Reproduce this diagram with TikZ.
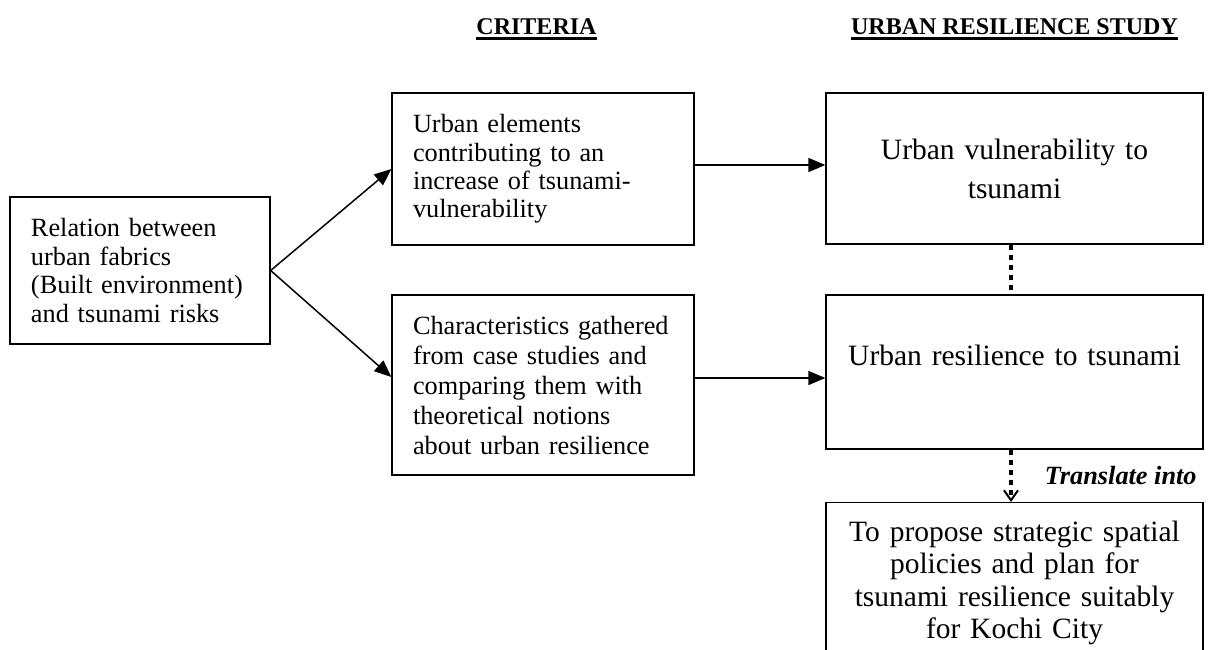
\documentclass[tikz,border=0pt]{standalone}
\usepackage{fontspec}
\setmainfont{Liberation Serif}
\usetikzlibrary{arrows.meta}
\begin{document}
\begin{tikzpicture}[x=0.5pt, y=-0.5pt,
  box/.style={draw, line width=0.65pt, rectangle, inner ysep=0pt},
  crit/.style={font=\fontsize{13.15pt}{14.2pt}\selectfont, align=left, inner xsep=10.5pt},
  outcome/.style={font=\fontsize{14.75pt}{16.25pt}\selectfont, align=center, inner xsep=9pt, text width=170.5pt},
  head/.style={font=\fontsize{12pt}{14pt}\selectfont\bfseries, inner sep=0pt},
  link/.style={line width=0.75pt, -{Triangle[length=8.5pt,width=7pt]}},
  dotlink/.style={line width=2.25pt, dash pattern=on 2.5pt off 2.5pt},
  ul/.style={line width=1.5pt}
]
\clip (0,0) rectangle (1208,649);

% column headings
\node[head, anchor=base] (h1) at (536.5,34) {CRITERIA};
\node[head, anchor=base] (h2) at (1014.5,34) {URBAN RESILIENCE STUDY};
\draw[ul] ([yshift=-2pt]h1.base west) -- ([yshift=-2pt]h1.base east);
\draw[ul] ([yshift=-2pt]h2.base west) -- ([yshift=-2pt]h2.base east);

% starting point
\node[box, crit, text width=109pt, minimum height=73.5pt] (src) at (140,270.5)
  {Relation between\\urban fabrics\\(Built environment)\\and tsunami risks};

% criteria
\node[box, crit, text width=130pt, minimum height=76pt] (A) at (543,169)
  {Urban elements\\contributing to an\\increase of tsunami-\\vulnerability};
\node[box, crit, text width=130pt, minimum height=90pt,
  font=\fontsize{13.15pt}{15pt}\selectfont] (B) at (543,385)
  {Characteristics gathered\\from case studies and\\comparing them with\\theoretical notions\\about urban resilience};

% urban resilience study
\node[box, outcome, minimum height=75.5pt,
  font=\fontsize{14.75pt}{19.5pt}\selectfont] (R1) at (1014.5,168.5)
  {Urban vulnerability to\\tsunami};
\node[box, outcome, minimum height=77pt] (R2) at (1014.5,372)
  {Urban resilience to tsunami\\\mbox{}};
\node[box, outcome, anchor=north, inner ysep=9pt] (R3) at (1014.5,502)
  {To propose strategic spatial\\policies and plan for\\tsunami resilience suitably\\for Kochi City};

% connectors
\draw[link] (src.east) -- (A.west);
\draw[link] (src.east) -- ([yshift=4pt]B.west);
\coordinate (ya) at ([yshift=2pt]A.east);
\draw[link] (ya) -- (ya -| R1.west);
\coordinate (yb) at ([yshift=3.5pt]B.east);
\draw[link] (yb) -- (yb -| R2.west);

\coordinate (d1) at ([xshift=-1.75pt]R1.south);
\draw[dotlink] (d1) -- (d1 |- R2.north);
\coordinate (d2) at ([xshift=-1.75pt]R2.south);
\draw[dotlink, -{Straight Barb[length=5pt,width=7pt,line width=1pt]}] (d2) -- (d2 |- R3.north);

\node[font=\fontsize{13.15pt}{15pt}\selectfont\bfseries\itshape, anchor=base east, inner sep=0pt] (tr)
  at (1197,484) {Translate into};
\end{tikzpicture}
\end{document}
